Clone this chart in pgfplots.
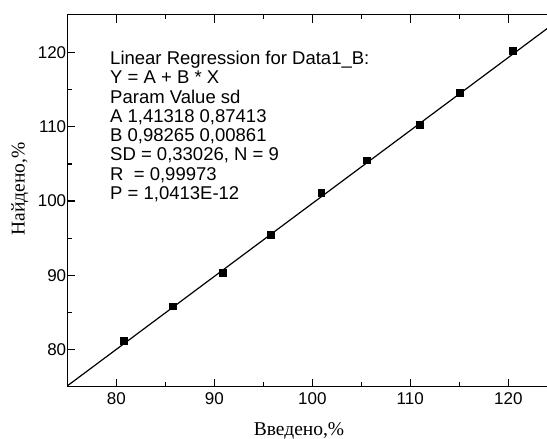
\documentclass[border=0pt]{standalone}
\usepackage{fontspec}
\setmainfont{Liberation Sans}
\newfontfamily\labelfont{Liberation Serif}
\usepackage{pgfplots}
\pgfplotsset{compat=1.18}
\begin{document}
\begin{tikzpicture}
\useasboundingbox (-67.3pt,-52.3pt) rectangle (479.7pt,386.7pt);
\begin{axis}[
  scale only axis, width=490pt, height=372pt,
  at={(0,0)}, anchor=south west,
  xmin=75, xmax=125, ymin=75, ymax=125.1,
  ytick pos=left, tick align=inside,
  xtick={80,90,100,110,120}, minor xtick={85,95,105,115},
  ytick={80,90,100,110,120}, minor ytick={85,95,105,115},
  major tick length=8pt, minor tick length=4.3pt,
  tick style={line width=1.2pt, black},
  axis line style={line width=1.4pt},
  ticklabel style={font=\fontsize{17}{17}\selectfont},
  /pgf/number format/assume math mode=true,
  xticklabel style={yshift=-2.6pt},
  yticklabel style={xshift=2.4pt},
  xlabel={Введено,\%}, ylabel={Найдено,\%},
  every axis x label/.style={at={(axis description cs:0.4729,0)}, anchor=base, yshift=-48.5pt, font=\labelfont\fontsize{19.5}{19.5}\selectfont},
  every axis y label/.style={at={(axis description cs:-0.0873,0.531)}, rotate=90, anchor=base, font=\labelfont\fontsize{19.5}{19.5}\selectfont},
]
\addplot[line width=1.2pt, black] coordinates {(75,75.11) (125,124.25)};
\addplot[only marks, mark=square*, mark size=3.4pt, black] coordinates {
(80.74,81.20) (85.79,85.84) (90.85,90.35) (95.78,95.48) (100.90,101.09)
(105.58,105.50) (110.95,110.32) (115.03,114.64) (120.44,120.26)};
\node[anchor=north west, inner sep=0pt, align=left, font=\fontsize{18.5}{19.3}\selectfont] at (axis cs:79.36,120.23)
{Linear Regression for Data1\_B:\\
Y = A + B * X\\
Param Value sd\\
A 1,41318 0,87413\\
B 0,98265 0,00861\\
SD = 0,33026, N = 9\\
R~~= 0,99973\\
P = 1,0413E-12};
\end{axis}
\end{tikzpicture}
\end{document}
